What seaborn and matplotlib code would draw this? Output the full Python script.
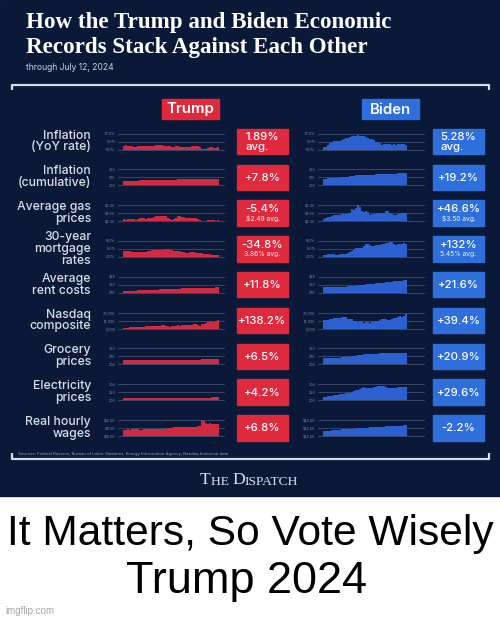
import numpy as np
import pandas as pd
import seaborn as sns
import matplotlib.pyplot as plt
from matplotlib.patches import Rectangle

metrics = ["Inflation\n(YoY rate)", "Inflation\n(cumulative)", "Average gas\nprices",
           "30-year\nmortgage\nrates", "Average\nrent costs", "Nasdaq\ncomposite",
           "Grocery\nprices", "Electricity\nprices", "Real hourly\nwages"]

trump_big = ["1.89%\navg.", "+7.8%", "-5.4%", "-34.8%", "+11.8%", "+138.2%", "+6.5%", "+4.2%", "+6.8%"]
trump_small = [None, None, "$2.49 avg.", "3.86% avg.", None, None, None, None, None]
biden_big = ["5.28%\navg.", "+19.2%", "+46.6%", "+132%", "+21.6%", "+39.4%", "+20.9%", "+29.6%", "-2.2%"]
biden_small = [None, None, "$3.50 avg.", "5.45% avg.", None, None, None, None, None]

tick_vals = [[0, 5, 10], [200, 275, 350], [2, 3.5, 5], [2, 5, 8], [275, 350, 425],
             [5000, 12500, 20000], [200, 275, 350], [200, 250, 300], [10, 11, 12]]
tick_text = [["0.0%", "5.0%", "10.0%"], ["200", "275", "350"], ["$2.00", "$3.50", "$5.00"],
             ["2.0%", "5.0%", "8.0%"], ["275", "350", "425"], ["5,000", "12,500", "20,000"],
             ["200", "275", "350"], ["200", "250", "300"], ["$10.00", "$11.00", "$12.00"]]
biden_wage_ticks = [25, 32.5, 40]
biden_wage_text = ["$25.00", "$32.50", "$40.00"]

# monthly series, Trump Jan 2017 - Dec 2020, Biden Jan 2021 - Jun 2024
trump_cpi_yoy = [2.5, 2.7, 2.4, 2.2, 1.9, 1.6, 1.7, 1.9, 2.2, 2.0, 2.2, 2.1,
                 2.1, 2.2, 2.4, 2.5, 2.8, 2.9, 2.9, 2.7, 2.3, 2.5, 2.2, 1.9,
                 1.6, 1.5, 1.9, 2.0, 1.8, 1.6, 1.8, 1.7, 1.7, 1.8, 2.1, 2.3,
                 2.5, 2.3, 1.5, 0.3, 0.1, 0.6, 1.0, 1.3, 1.4, 1.2, 1.2, 1.4]
biden_cpi_yoy = [1.4, 1.7, 2.6, 4.2, 5.0, 5.4, 5.4, 5.3, 5.4, 6.2, 6.8, 7.0,
                 7.5, 7.9, 8.5, 8.3, 8.6, 9.1, 8.5, 8.3, 8.2, 7.7, 7.1, 6.5,
                 6.4, 6.0, 5.0, 4.9, 4.0, 3.0, 3.2, 3.7, 3.7, 3.2, 3.1, 3.4,
                 3.1, 3.2, 3.5, 3.4, 3.3, 3.0]
trump_cpi = [243, 244, 244, 244, 244, 244, 244, 245, 246, 246, 246, 246,
             248, 249, 249, 250, 251, 251, 252, 252, 252, 252, 252, 251,
             251, 252, 254, 255, 256, 256, 256, 256, 256, 257, 257, 256,
             258, 259, 258, 256, 256, 257, 259, 260, 260, 260, 260, 261]
biden_cpi = [262, 263, 265, 267, 269, 271, 273, 273, 274, 276, 277, 278,
             281, 284, 287, 289, 292, 296, 296, 296, 297, 298, 298, 297,
             300, 301, 302, 304, 304, 305, 306, 307, 308, 308, 308, 308,
             309, 311, 312, 313, 314, 314]
trump_gas = [2.35, 2.30, 2.32, 2.42, 2.39, 2.34, 2.27, 2.38, 2.65, 2.50, 2.56, 2.48,
             2.55, 2.59, 2.60, 2.80, 2.96, 2.91, 2.89, 2.89, 2.88, 2.92, 2.66, 2.37,
             2.25, 2.31, 2.56, 2.88, 2.90, 2.72, 2.74, 2.63, 2.59, 2.63, 2.60, 2.56,
             2.54, 2.42, 2.23, 1.84, 1.87, 2.08, 2.18, 2.18, 2.18, 2.16, 2.11, 2.20]
biden_gas = [2.33, 2.50, 2.86, 2.86, 3.02, 3.07, 3.14, 3.16, 3.17, 3.29, 3.40, 3.30,
             3.32, 3.52, 4.22, 4.11, 4.44, 4.93, 4.56, 3.98, 3.70, 3.81, 3.68, 3.21,
             3.34, 3.39, 3.42, 3.61, 3.55, 3.57, 3.60, 3.84, 3.84, 3.61, 3.28, 3.14,
             3.11, 3.26, 3.42, 3.61, 3.60, 3.45]
trump_mortgage = [4.15, 4.17, 4.20, 4.05, 4.01, 3.90, 3.97, 3.88, 3.81, 3.90, 3.92, 3.95,
                  4.03, 4.33, 4.44, 4.47, 4.59, 4.57, 4.53, 4.55, 4.63, 4.83, 4.87, 4.64,
                  4.46, 4.37, 4.27, 4.14, 4.07, 3.80, 3.77, 3.62, 3.61, 3.69, 3.70, 3.72,
                  3.62, 3.47, 3.45, 3.31, 3.23, 3.16, 3.02, 2.94, 2.89, 2.83, 2.77, 2.68]
biden_mortgage = [2.74, 2.81, 3.08, 3.06, 2.96, 2.98, 2.87, 2.84, 2.90, 3.07, 3.07, 3.10,
                  3.45, 3.76, 4.17, 4.98, 5.23, 5.52, 5.41, 5.22, 6.11, 6.90, 6.81, 6.36,
                  6.27, 6.26, 6.54, 6.34, 6.43, 6.71, 6.84, 7.07, 7.20, 7.62, 7.44, 6.82,
                  6.64, 6.78, 6.82, 7.00, 7.06, 6.92]
trump_rent = [290, 291, 292, 293, 293, 294, 295, 296, 297, 298, 298, 299,
              300, 301, 302, 303, 303, 304, 305, 306, 307, 308, 309, 309,
              310, 311, 312, 313, 314, 315, 316, 316, 317, 318, 319, 320,
              320, 321, 321, 322, 322, 322, 323, 323, 323, 323, 324, 324]
biden_rent = [324, 325, 325, 326, 326, 327, 328, 329, 330, 331, 332, 333,
              334, 336, 337, 339, 341, 343, 345, 347, 349, 352, 354, 356,
              358, 360, 362, 364, 366, 368, 370, 372, 374, 376, 378, 380,
              382, 384, 386, 388, 390, 392]
trump_nasdaq = [5615, 5825, 5912, 6047, 6199, 6140, 6348, 6429, 6496, 6728, 6873, 6903,
                7411, 7273, 7063, 7066, 7442, 7510, 7672, 8110, 8046, 7306, 7331, 6635,
                7282, 7533, 7729, 8095, 7453, 8006, 8175, 7963, 7999, 8292, 8665, 8973,
                9151, 8567, 7700, 8890, 9490, 10059, 10745, 11775, 11168, 10912, 12199, 12888]
biden_nasdaq = [13070, 13192, 13247, 13962, 13749, 14504, 14673, 15259, 14449, 15498, 15538, 15645,
                14240, 13751, 14221, 12335, 12081, 11029, 12391, 11816, 10576, 10988, 11468, 10466,
                11585, 11456, 12222, 12227, 12935, 13788, 14346, 14035, 13219, 12851, 14226, 15011,
                15164, 16092, 16379, 15658, 16735, 18200]
trump_grocery = [238, 238, 238, 237, 237, 237, 237, 237, 237, 237, 238, 238,
                 238, 239, 239, 239, 239, 239, 239, 239, 239, 239, 239, 240,
                 240, 240, 241, 241, 241, 241, 241, 241, 241, 242, 242, 242,
                 243, 243, 244, 251, 253, 253, 252, 252, 252, 252, 253, 254]
biden_grocery = [255, 255, 256, 257, 258, 260, 261, 261, 262, 264, 266, 268,
                 270, 273, 276, 279, 282, 285, 288, 291, 293, 295, 296, 298,
                 300, 301, 301, 301, 302, 302, 302, 303, 303, 304, 304, 304,
                 305, 306, 306, 306, 306, 307]
trump_power = [210, 211, 212, 213, 214, 215, 215, 214, 213, 212, 212, 212,
               212, 212, 212, 213, 213, 213, 214, 214, 213, 212, 212, 212,
               212, 213, 213, 213, 213, 214, 214, 214, 214, 214, 213, 213,
               213, 212, 212, 212, 213, 214, 215, 216, 217, 218, 218, 219]
biden_power = [219, 221, 224, 226, 228, 229, 231, 234, 236, 239, 241, 242,
               244, 247, 250, 254, 260, 265, 270, 275, 279, 278, 276, 274,
               276, 279, 282, 285, 286, 285, 288, 281, 278, 276, 275, 275,
               277, 279, 280, 282, 283, 284]
trump_wages = [10.74, 10.77, 10.80, 10.79, 10.80, 10.82, 10.81, 10.80, 10.79, 10.78, 10.80, 10.81,
               10.80, 10.82, 10.83, 10.84, 10.85, 10.84, 10.85, 10.90, 10.90, 10.92, 10.95, 10.99,
               11.03, 11.06, 11.05, 11.05, 11.08, 11.10, 11.10, 11.14, 11.14, 11.13, 11.14, 11.13,
               11.14, 11.18, 11.25, 11.93, 11.80, 11.58, 11.52, 11.55, 11.52, 11.52, 11.50, 11.47]
biden_wages = [29.96, 29.73, 29.77, 30.03, 30.19, 30.33, 30.52, 30.72, 30.91, 31.03, 31.17, 31.36,
               31.59, 31.62, 31.74, 31.89, 32.01, 32.10, 32.25, 32.35, 32.46, 32.58, 32.82, 32.91,
               33.06, 33.18, 33.29, 33.40, 33.52, 33.62, 33.75, 33.83, 33.94, 34.00, 34.12, 34.27,
               34.36, 34.49, 34.59, 34.67, 34.86, 34.98]

trump_series = [trump_cpi_yoy, trump_cpi, trump_gas, trump_mortgage, trump_rent,
                trump_nasdaq, trump_grocery, trump_power, trump_wages]
biden_series = [biden_cpi_yoy, biden_cpi, biden_gas, biden_mortgage, biden_rent,
                biden_nasdaq, biden_grocery, biden_power, biden_wages]

# ---- styling ----
NAVY = "#0b1939"
RED_BOX = "#df2a3d"
BLUE_BOX = "#2f6fdc"
RED_BAR = "#cf2a40"
BLUE_BAR = "#2c5fcf"
LABEL = "#dadde5"
GRID = "#3a4669"
TICK = "#7f89a3"
SANS = ["Inter", "DejaVu Sans"]

sns.set_theme(style="white")
plt.rcParams["font.family"] = SANS

W, H = 500, 619
fig = plt.figure(figsize=(W / 100, H / 100), dpi=100)
fig.patch.set_facecolor("white")

# background axes in pixel coordinates
bg = fig.add_axes([0, 0, 1, 1])
bg.set_xlim(0, W)
bg.set_ylim(H, 0)
bg.axis("off")
bg.add_patch(Rectangle((0, 0), W, 496, color=NAVY, zorder=0))

# title block
bg.text(26, 28, "How the Trump and Biden Economic", family="Liberation Serif",
        weight="bold", size=16.6, color="white", va="baseline")
bg.text(26, 53, "Records Stack Against Each Other", family="Liberation Serif",
        weight="bold", size=16.6, color="white", va="baseline")
bg.text(26, 70, "through July 12, 2024", size=6.2, color="#c9cedb", va="baseline")

# brackets
br = dict(color="#d8dbe3", lw=1.6, solid_capstyle="butt")
bg.plot([11.5, 11.5, 488.5, 488.5], [90, 85, 85, 90], **br)
bg.plot([11.5, 11.5, 488.5, 488.5], [453, 459, 459, 453], **br)
bg.text(18, 455.5, "Sources: Federal Reserve, Bureau of Labor Statistics, Energy Information "
        "Agency, Nasdaq historical data", size=3, color="#9aa3b8", va="baseline")

# headers
for x0, name, col in [(162, "Trump", RED_BOX), (362, "Biden", BLUE_BOX)]:
    bg.add_patch(Rectangle((x0, 99), 57, 20, color=col, zorder=2))
    bg.text(x0 + 28.5, 109.5, name, size=10.8, weight="semibold", color="white",
            ha="center", va="center", zorder=3)

row0, step = 141.5, 35.8
for i, label in enumerate(metrics):
    cy = row0 + i * step
    bg.text(91, cy, label, size=8.8, weight="medium", color=LABEL, ha="right", va="center",
            multialignment="right", linespacing=0.98)

    for bx, big, small, col in [(237, trump_big[i], trump_small[i], RED_BOX),
                                (433, biden_big[i], biden_small[i], BLUE_BOX)]:
        bg.add_patch(Rectangle((bx, cy - 12.75), 51, 25.5, color=col, zorder=2))
        if small is None:
            bg.text(bx + 25.5, cy + 0.5, big, size=8.2, weight="medium", color="white",
                    ha="center", va="center", multialignment="left", linespacing=1.0, zorder=3)
        else:
            bg.text(bx + 25.5, cy - 4, big, size=8.2, weight="medium", color="white",
                    ha="center", va="center", zorder=3)
            bg.text(bx + 25.5, cy + 5.5, small, size=4.8, color="#f1f2f6", ha="center",
                    va="center", zorder=3)

    # mini bar charts
    for ax_x, series, color, who in [(118, trump_series[i], RED_BAR, "t"),
                                     (318, biden_series[i], BLUE_BAR, "b")]:
        ax = fig.add_axes([ax_x / W, 1 - (cy + 8) / H, 106 / W, 16 / H])
        ax.set_facecolor("none")
        if who == "b" and i == 8:
            tv, tt = biden_wage_ticks, biden_wage_text
        else:
            tv, tt = tick_vals[i], tick_text[i]
        for t in tv:
            ax.axhline(t, color=GRID, lw=0.7, zorder=0, clip_on=False)
        df = pd.DataFrame({"m": np.arange(len(series)), "v": series})
        sns.barplot(data=df, x="m", y="v", color=color, saturation=1, width=0.78,
                    errorbar=None, ax=ax, zorder=2, linewidth=0)
        ax.set_xlim(-3, 50)
        ax.set_ylim(tv[0], tv[-1])
        ax.set_xticks([])
        ax.set_yticks(tv)
        ax.set_yticklabels(tt)
        ax.tick_params(axis="y", length=0, pad=2, labelsize=2.6, labelcolor=TICK)
        ax.set_xlabel("")
        ax.set_ylabel("")
        sns.despine(ax=ax, left=True, bottom=True)

# masthead in small caps
prev = bg.text(200, 484, "T", family="Liberation Serif", size=12.6, color="#dfe2ea", va="baseline")
for piece, sz in [("HE ", 9.7), ("D", 12.6), ("ISPATCH", 9.7)]:
    prev = bg.annotate(piece, xy=(1, 0), xycoords=prev, family="Liberation Serif",
                       size=sz, color="#dfe2ea", va="bottom", ha="left")

# meme caption
bg.text(250, 545, "It Matters, So Vote Wisely", family="Liberation Sans", size=30.6,
        color="black", ha="center", va="baseline")
bg.text(247, 593, "Trump 2024", family="Liberation Sans", size=32.5,
        color="black", ha="center", va="baseline")
bg.text(5, 611, "imgflip.com", family="Liberation Sans", size=7, color="#a6a6a6", va="center")

fig.savefig("out.png", dpi=100)
